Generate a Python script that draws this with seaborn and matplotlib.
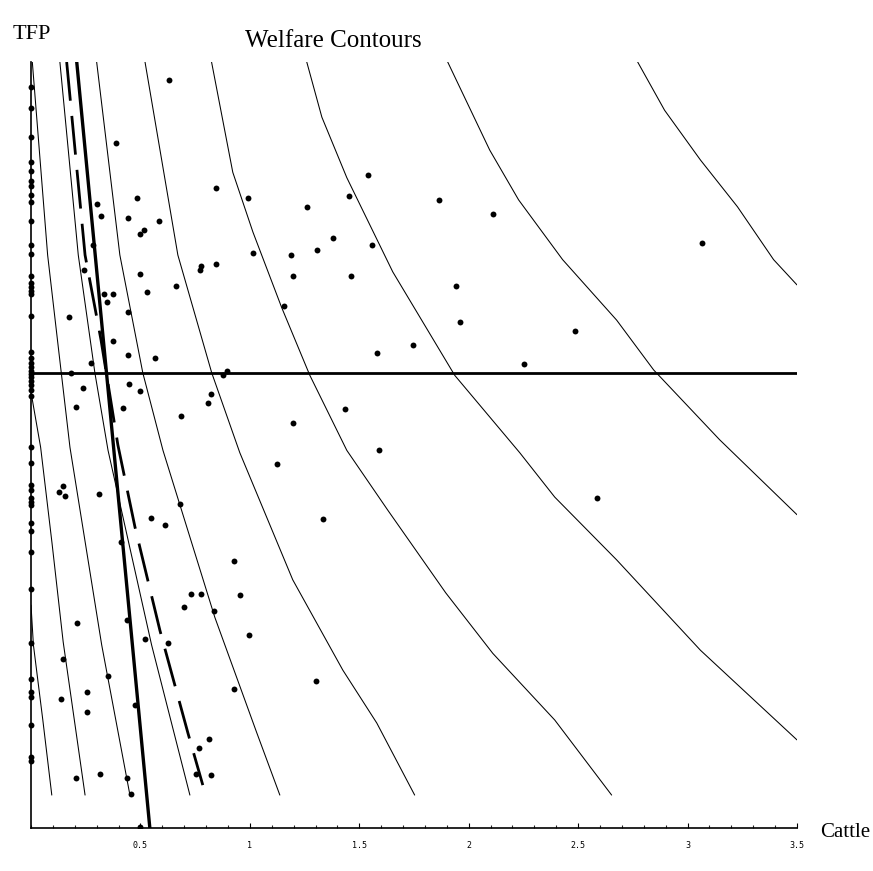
import numpy as np
import pandas as pd

import matplotlib.pyplot as plt
import matplotlib.ticker as mticker
import seaborn as sns

# Observations (cattle, TFP)
cattle = [0.632, 0.388, 0.845, 0.485, 0.303, 0.321, 0.442, 0.583, 0.516, 0.498,
          0.282, 0.242, 0.498, 0.779, 0.772, 0.845, 0.662, 0.528, 0.333, 0.376,
          0.346, 0.442, 0.175, 0.376, 0.442, 0.565, 0.273, 0.181, 0.236, 0.449,
          0.498, 0.821, 0.807, 0.205, 0.419, 0.686, 0.145, 0.129, 0.157, 0.309,
          0.680, 0.547, 0.613, 0.410, 0.729, 0.778, 0.699, 0.837, 0.437, 0.211,
          0.522, 0.626, 0.145, 0.352, 0.254, 0.138, 0.254, 0.474, 0.814, 0.766,
          0.205, 0.315, 0.437, 0.753, 0.821, 0.455, 0.498,
          1.589, 1.126, 1.332, 0.928, 0.954, 0.997, 1.300, 0.928, 2.586,
          0.992, 1.540, 1.453, 1.259, 1.862, 2.111, 1.380, 1.307, 1.186, 1.015,
          1.557, 1.198, 1.460, 1.155, 1.941, 1.959, 2.484, 1.746, 1.581, 2.251,
          0.878, 0.894, 1.434, 1.198, 3.068]
tfp = [0.977, 0.894, 0.836, 0.823, 0.815, 0.799, 0.796, 0.792, 0.781, 0.775,
       0.761, 0.728, 0.723, 0.734, 0.728, 0.736, 0.707, 0.700, 0.697, 0.697,
       0.687, 0.674, 0.667, 0.636, 0.617, 0.614, 0.607, 0.594, 0.575, 0.579,
       0.570, 0.567, 0.555, 0.550, 0.548, 0.538, 0.447, 0.438, 0.433, 0.436,
       0.423, 0.405, 0.396, 0.374, 0.305, 0.305, 0.288, 0.283, 0.272, 0.267,
       0.247, 0.242, 0.220, 0.198, 0.177, 0.168, 0.151, 0.161, 0.116, 0.104,
       0.065, 0.070, 0.065, 0.070, 0.069, 0.044, 0.001,
       0.493, 0.475, 0.403, 0.349, 0.304, 0.252, 0.192, 0.182, 0.431,
       0.823, 0.852, 0.825, 0.811, 0.820, 0.801, 0.770, 0.754, 0.748, 0.750,
       0.761, 0.721, 0.721, 0.681, 0.707, 0.660, 0.649, 0.630, 0.620, 0.606,
       0.592, 0.596, 0.547, 0.529, 0.764]

# farms with no cattle
tfp_zero = [0.968, 0.940, 0.902, 0.869, 0.858, 0.845, 0.838, 0.826, 0.817, 0.793,
            0.761, 0.749, 0.721, 0.711, 0.706, 0.701, 0.697, 0.668, 0.622, 0.613,
            0.607, 0.602, 0.596, 0.593, 0.589, 0.584, 0.578, 0.572, 0.564, 0.497,
            0.476, 0.448, 0.441, 0.431, 0.426, 0.422, 0.398, 0.388, 0.360, 0.312,
            0.242, 0.195, 0.177, 0.171, 0.134, 0.093, 0.087]
cattle_zero = [0.0] * len(tfp_zero)

# welfare contours
c1_x = [0.000, 0.011, 0.054, 0.095]
c1_y = [0.291, 0.239, 0.141, 0.043]
c2_x = [0.000, 0.044, 0.096, 0.147, 0.247]
c2_y = [0.569, 0.497, 0.372, 0.243, 0.043]
c3_x = [0.006, 0.076, 0.125, 0.178, 0.323, 0.452]
c3_y = [1.000, 0.748, 0.627, 0.497, 0.239, 0.043]
c4_x = [0.132, 0.216, 0.292, 0.352, 0.551, 0.726]
c4_y = [1.000, 0.748, 0.594, 0.493, 0.239, 0.043]
c5_x = [0.300, 0.406, 0.511, 0.603, 0.840, 1.032, 1.137]
c5_y = [1.000, 0.748, 0.594, 0.493, 0.275, 0.124, 0.043]
c6_x = [0.521, 0.671, 0.826, 0.954, 1.196, 1.425, 1.580, 1.753]
c6_y = [1.000, 0.748, 0.594, 0.490, 0.324, 0.206, 0.137, 0.043]
c7_x = [0.825, 0.922, 1.014, 1.146, 1.274, 1.443, 1.630, 1.895, 2.110, 2.393, 2.653]
c7_y = [1.000, 0.856, 0.778, 0.679, 0.591, 0.493, 0.415, 0.307, 0.228, 0.141, 0.043]
c8_x = [1.260, 1.329, 1.443, 1.653, 1.936, 2.233, 2.393, 2.676, 3.059, 3.500]
c8_y = [1.000, 0.928, 0.849, 0.726, 0.591, 0.490, 0.432, 0.350, 0.232, 0.115]
c9_x = [1.904, 2.096, 2.228, 2.429, 2.676, 2.845, 3.146, 3.500]
c9_y = [1.000, 0.885, 0.820, 0.742, 0.663, 0.598, 0.507, 0.409]
c10_x = [2.772, 2.895, 3.059, 3.228, 3.393, 3.500]
c10_y = [1.000, 0.937, 0.872, 0.811, 0.742, 0.709]
contours = [(c1_x, c1_y), (c2_x, c2_y), (c3_x, c3_y), (c4_x, c4_y), (c5_x, c5_y),
            (c6_x, c6_y), (c7_x, c7_y), (c8_x, c8_y), (c9_x, c9_y), (c10_x, c10_y)]

# frontier lines
solid_x = [0.209, 0.345, 0.543]
solid_y = [1.000, 0.594, 0.000]
dash_x = [0.163, 0.247, 0.320, 0.397, 0.475, 0.589, 0.717, 0.785]
dash_y = [1.000, 0.748, 0.637, 0.500, 0.393, 0.258, 0.124, 0.056]
tfp_ref = 0.594

xticks = [0.5, 1, 1.5, 2, 2.5, 3, 3.5]
xtick_labels = ["0.5", "1", "1.5", "2", "2.5", "3", "3.5"]

sns.set_style("white")

fig = plt.figure(figsize=(8.73, 8.71), dpi=100)
ax = fig.add_axes([31 / 873, 43 / 871, 766 / 873, 766 / 871])

for cx, cy in contours:
    sns.lineplot(x=cx, y=cy, sort=False, estimator=None, color="black", lw=0.75, ax=ax)

sns.lineplot(x=solid_x, y=solid_y, sort=False, estimator=None, color="black", lw=2.4, ax=ax)
sns.lineplot(x=dash_x, y=dash_y, sort=False, estimator=None, color="black", lw=2.0,
             linestyle=(0, (14, 5.5)), ax=ax)
ax.axhline(tfp_ref, color="black", lw=2.0)

sns.scatterplot(x=cattle, y=tfp, color="black", s=18, linewidth=0, ax=ax, zorder=5)
sns.scatterplot(x=cattle_zero, y=tfp_zero, color="black", s=18, linewidth=0, ax=ax,
                zorder=5, clip_on=False)

ax.set_xlim(0, 3.5)
ax.set_ylim(0, 1)
for side in ["top", "right"]:
    ax.spines[side].set_visible(False)
for side in ["left", "bottom"]:
    ax.spines[side].set_color("black")
    ax.spines[side].set_linewidth(1.2)

ax.set_xticks(xticks)
ax.set_xticklabels(xtick_labels, family="DejaVu Sans Mono", fontsize=6, color="black")
ax.xaxis.set_minor_locator(mticker.MultipleLocator(0.1))
ax.tick_params(axis="x", which="major", direction="in", length=3.5, width=0.8, pad=9,
               bottom=True, colors="black")
ax.tick_params(axis="x", which="minor", direction="in", length=2, width=0.8, bottom=True)
ax.set_yticks([])
ax.set_xlabel("")
ax.set_ylabel("")

serif = ["Liberation Serif", "DejaVu Serif"]
fig.text(12.7 / 873, 1 - 39 / 871, "TFP", family=serif, fontsize=16, va="baseline",
         color="black")
fig.text(245 / 873, 1 - 47 / 871, "Welfare Contours", family=serif, fontsize=18,
         va="baseline", color="black")
fig.text(820 / 873, 1 - 837 / 871, "Cattle", family=serif, fontsize=15, va="baseline",
         color="black")

fig.savefig("out.png", dpi=100, facecolor="white")
